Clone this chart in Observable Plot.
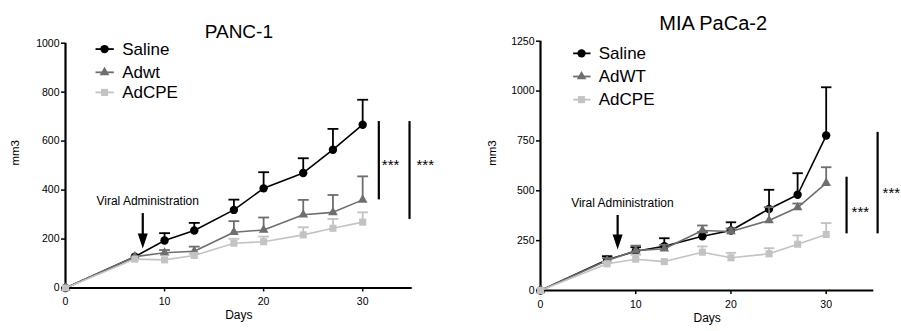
<!DOCTYPE html>
<html><head><meta charset="utf-8">
<script src="https://cdn.jsdelivr.net/npm/d3@7"></script>
<script src="https://cdn.jsdelivr.net/npm/@observablehq/plot@0.6"></script>
<style>
body{margin:0;background:#fff;}
#wrap{display:flex;width:901px;height:331px;overflow:hidden;}
svg{display:block;}
</style></head><body><div id="wrap"></div>
<script>
// ---------- data ----------
const days = [0, 7, 10, 13, 17, 20, 24, 27, 30];
const xTicks = [0, 10, 20, 30];

const pancTitle = "PANC-1";
const pancNames = ["Saline", "Adwt", "AdCPE"];
const pancSaline    = [0, 128, 194, 235, 319, 407, 470, 565, 667];
const pancSalineSem = [0, 0, 30, 31, 42, 66, 60, 85, 102];
const pancAdwt      = [0, 128, 144, 150, 228, 237, 299, 309, 360];
const pancAdwtSem   = [0, 0, 11, 19, 45, 51, 61, 71, 96];
const pancAdcpe     = [0, 118, 115, 133, 183, 189, 217, 244, 269];
const pancAdcpeSem  = [0, 0, 0, 7, 18, 21, 31, 38, 40];
const pancYTicks = [0, 200, 400, 600, 800, 1000];
const pancSigX    = [31.63, 34.73];
const pancSigLow  = [360, 280];
const pancSigHigh = [680, 680];
const pancSigStarY = [520, 520];

const miaTitle = "MIA PaCa-2";
const miaNames = ["Saline", "AdWT", "AdCPE"];
const miaSaline    = [0, 154, 197, 222, 272, 301, 409, 480, 777];
const miaSalineSem = [0, 18, 20, 40, 20, 41, 96, 108, 242];
const miaAdwt      = [0, 150, 200, 209, 301, 296, 351, 416, 538];
const miaAdwtSem   = [0, 12, 25, 20, 25, 15, 67, 20, 80];
const miaAdcpe     = [0, 134, 157, 145, 192, 164, 184, 232, 281];
const miaAdcpeSem  = [0, 8, 22, 0, 29, 25, 28, 44, 57];
const miaYTicks = [0, 250, 500, 750, 1000, 1250];
const miaSigX    = [32.14, 35.4];
const miaSigLow  = [284, 284];
const miaSigHigh = [568, 793];
const miaSigStarY = [411, 510];

const annotationText = "Viral Administration";
const sigLabel = "***";

// ---------- style ----------
const colors = ["#000000", "#6e6e6e", "#c3c3c3"];
const symbols = ["circle", "triangle", "square"];
const radii = [4.2, 3.6, 4.0];
const FONT = "Helvetica, 'Liberation Sans', Arial, sans-serif";

const arrowHead = {
  draw(ctx) { ctx.moveTo(0, 0); ctx.lineTo(-5, -15); ctx.lineTo(5, -15); ctx.closePath(); }
};

function panel(cfg) {
  const series = cfg.series.map(([vals, sems], i) =>
    days.map((d, j) => ({day: d, v: vals[j], top: vals[j] + sems[j], sem: sems[j], i})));
  const marks = [];
  // axes
  marks.push(Plot.axisY({ticks: cfg.yTicks, tickSize: 4, tickPadding: 2, tickFormat: d => String(d),
    label: null, fontSize: 10.5, strokeWidth: 1.5}));
  marks.push(Plot.axisX({ticks: xTicks, tickSize: 4, tickPadding: 6, tickFormat: d => String(d),
    label: null, fontSize: 10.5, strokeWidth: 1.5}));
  marks.push(Plot.ruleY([0], {x1: 0, x2: 35, stroke: "black", strokeWidth: 2.2}));
  marks.push(Plot.ruleX([0], {y1: 0, y2: cfg.yMax, stroke: "black", strokeWidth: 2.2}));
  // series
  series.forEach((rows, i) => {
    const err = rows.filter(r => r.sem > 0);
    marks.push(Plot.ruleX(err, {x: "day", y1: "v", y2: "top", stroke: colors[i], strokeWidth: 1.8}));
    marks.push(Plot.link(err, {x1: d => d.day - 0.55, x2: d => d.day + 0.55, y1: "top", y2: "top",
      stroke: colors[i], strokeWidth: 1.8}));
    marks.push(Plot.line(rows, {x: "day", y: "v", stroke: colors[i], strokeWidth: 1.6}));
    marks.push(Plot.dot(rows, {x: "day", y: "v", symbol: symbols[i], fill: colors[i], stroke: "none", r: radii[i]}));
  });
  // legend
  const L = cfg.legend;
  cfg.names.forEach((name, i) => {
    marks.push(Plot.link([0], {x1: L.x1, x2: L.x2, y1: L.y[i], y2: L.y[i], stroke: colors[i], strokeWidth: 1.8}));
    marks.push(Plot.dot([0], {x: L.xm, y: L.y[i], symbol: symbols[i], fill: colors[i], stroke: "none", r: radii[i]}));
    marks.push(Plot.text([name], {x: L.xt, y: L.y[i], text: d => d, textAnchor: "start", fontSize: 17, fill: "black"}));
  });
  // viral administration annotation
  const A = cfg.arrow;
  marks.push(Plot.text([annotationText], {x: A.tx, y: A.ty, text: d => d, fontSize: 12, fill: "black"}));
  marks.push(Plot.ruleX([A.x], {y1: A.top, y2: A.tip, stroke: "black", strokeWidth: 2.2, insetBottom: 10}));
  marks.push(Plot.dot([A.x], {x: d => d, y: A.tip, symbol: arrowHead, fill: "black", stroke: "none"}));
  // significance bars
  cfg.sigX.forEach((x, k) => {
    marks.push(Plot.ruleX([x], {y1: cfg.sigLow[k], y2: cfg.sigHigh[k], stroke: "black", strokeWidth: 2.2}));
    marks.push(Plot.text([sigLabel], {x: x, y: cfg.sigStarY[k], text: d => d, textAnchor: "start",
      dx: cfg.sigDx[k], dy: 4, fontSize: 15, fill: "black"}));
  });
  // titles & axis labels
  marks.push(Plot.text([cfg.title], {frameAnchor: "top", text: d => d, dx: cfg.titleDx, dy: cfg.titleDy,
    fontSize: cfg.titleSize, fill: "black"}));
  marks.push(Plot.text(["mm3"], {frameAnchor: "left", text: d => d, rotate: -90, dx: cfg.yLabelDx, fontSize: 11.5, fill: "black"}));
  marks.push(Plot.text(["Days"], {frameAnchor: "bottom", text: d => d, dy: cfg.xLabelDy, fontSize: 12, fill: "black"}));

  return Plot.plot({
    width: cfg.width, height: 331,
    marginLeft: cfg.ml, marginRight: cfg.mr, marginTop: cfg.mt, marginBottom: cfg.mb,
    x: {domain: [0, 35]},
    y: {domain: [0, cfg.yMax]},
    style: {fontFamily: FONT, color: "black", background: "white", overflow: "visible"},
    marks
  });
}

const wrap = document.getElementById("wrap");
wrap.append(panel({
  width: 450, ml: 65, mr: 38.3, mt: 42.7, mb: 43.5, yMax: 1000, yTicks: pancYTicks,
  title: pancTitle, titleDx: 0, titleDy: -18.7, titleSize: 19, yLabelDx: -50, xLabelDy: 30.5,
  names: pancNames,
  series: [[pancSaline, pancSalineSem], [pancAdwt, pancAdwtSem], [pancAdcpe, pancAdcpeSem]],
  legend: {x1: 3.03, x2: 4.88, xm: 3.94, xt: 5.72, y: [976, 881, 799]},
  arrow: {x: 7.8, top: 304, tip: 161, tx: 8.3, ty: 353},
  sigX: pancSigX, sigLow: pancSigLow, sigHigh: pancSigHigh, sigStarY: pancSigStarY, sigDx: [3, 7]
}));
wrap.append(panel({
  width: 451, ml: 90, mr: 27.7, mt: 40.7, mb: 41, yMax: 1250, yTicks: miaYTicks,
  title: miaTitle, titleDx: 6, titleDy: -25.7, titleSize: 20, yLabelDx: -48.3, xLabelDy: 31.7,
  names: miaNames,
  series: [[miaSaline, miaSalineSem], [miaAdwt, miaAdwtSem], [miaAdcpe, miaAdcpeSem]],
  legend: {x1: 3.43, x2: 5.25, xm: 4.31, xt: 6.12, y: [1189, 1073, 957]},
  arrow: {x: 8.1, top: 376, tip: 206, tx: 8.6, ty: 436},
  sigX: miaSigX, sigLow: miaSigLow, sigHigh: miaSigHigh, sigStarY: miaSigStarY, sigDx: [5, 5]
}));
</script></body></html>
